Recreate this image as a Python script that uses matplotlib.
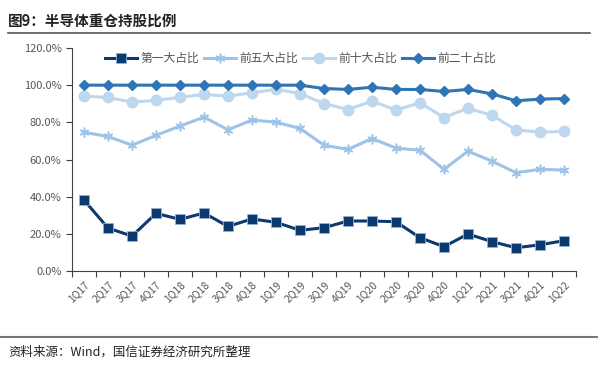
import matplotlib
matplotlib.use("Agg")
import matplotlib.pyplot as plt
from matplotlib.lines import Line2D
from matplotlib.ticker import FuncFormatter, FixedLocator

plt.rcParams['font.family'] = ['Noto Sans CJK SC', 'DejaVu Sans']

# --------------------
# Data
# --------------------
quarters = ["1Q17", "2Q17", "3Q17", "4Q17", "1Q18", "2Q18", "3Q18", "4Q18",
            "1Q19", "2Q19", "3Q19", "4Q19", "1Q20", "2Q20", "3Q20", "4Q20",
            "1Q21", "2Q21", "3Q21", "4Q21", "1Q22"]
top1 = [38.2, 23.1, 18.8, 31.0, 27.8, 31.2, 24.0, 28.0, 26.2, 21.9, 23.3,
        26.9, 26.9, 26.5, 17.9, 13.1, 19.9, 15.8, 12.5, 14.1, 16.3]
top5 = [74.6, 72.4, 67.7, 73.0, 78.0, 82.8, 76.0, 81.2, 80.1, 76.7, 67.7,
        65.4, 71.3, 66.1, 65.0, 54.7, 64.5, 59.1, 52.9, 54.7, 54.3]
top10 = [94.1, 93.4, 90.9, 91.8, 93.5, 95.0, 94.1, 95.9, 97.8, 95.5, 90.1,
         86.9, 91.4, 86.6, 90.5, 82.6, 87.6, 83.7, 76.0, 74.7, 75.1]
top20 = [100.0, 100.0, 100.0, 100.0, 100.0, 100.0, 100.0, 100.0, 100.0, 100.0, 98.2,
         97.7, 98.9, 97.7, 97.7, 96.6, 97.7, 95.3, 91.6, 92.5, 92.8]
labels = ["第一大占比", "前五大占比", "前十大占比", "前二十占比"]

# --------------------
# Figure
# --------------------
fig = plt.figure(figsize=(5.98, 3.67), dpi=100)
W, H = 598, 367
ax = fig.add_axes([72 / W, (H - 271) / H, 504 / W, 223 / H])

x = list(range(len(quarters)))
ax.plot(x, top1, color="#0d3a6e", lw=2.2, marker="s", ms=7,
        mec="#8fb3dc", mew=0.6, label=labels[0], zorder=5)
ax.plot(x, top5, color="#9dc3e6", lw=2.2, marker=(6, 2, 0), ms=7, mew=1.1,
        label=labels[1], zorder=3)
ax.plot(x, top10, color="#bdd7ee", lw=2.2, marker="o", ms=7.5,
        label=labels[2], zorder=2)
ax.plot(x, top20, color="#2e75b6", lw=2.2, marker="D", ms=5.5,
        label=labels[3], zorder=4)

ax.set_ylim(0, 120)
ax.set_yticks(range(0, 121, 20))
ax.yaxis.set_major_formatter(FuncFormatter(lambda v, p: f"{v:.1f}%"))
ax.set_xlim(-0.5, len(quarters) - 0.5)
ax.xaxis.set_major_locator(FixedLocator([i - 0.5 for i in range(len(quarters) + 1)]))
ax.xaxis.set_minor_locator(FixedLocator(x))
ax.set_xticklabels([""] * (len(quarters) + 1))
ax.set_xticklabels(quarters, minor=True, rotation=45, ha="right",
                   rotation_mode="anchor")
ax.tick_params(axis="x", which="minor", length=0, pad=6, labelsize=7.5,
               labelcolor="#555555")
ax.tick_params(axis="x", which="major", length=4, color="#404040")
ax.tick_params(axis="y", length=4, labelsize=8, labelcolor="#555555",
               color="#404040")
for s in ["top", "right"]:
    ax.spines[s].set_visible(False)
for s in ["left", "bottom"]:
    ax.spines[s].set_color("#404040")

ax.legend(loc="upper center", bbox_to_anchor=(0.454, 1.03), ncol=4, frameon=False,
          fontsize=8.5, handlelength=2.7, columnspacing=0.4, handletextpad=0.3,
          labelcolor="#555555")

# --------------------
# Title, rules, source
# --------------------
fig.text(8 / W, 1 - 21 / H, "图9：半导体重仓持股比例", fontsize=10.5,
         fontweight="bold", va="center", ha="left", color="#222222")
fig.add_artist(Line2D([8 / W, 590 / W], [1 - 33 / H, 1 - 33 / H],
                      color="#555555", lw=1.2))
fig.add_artist(Line2D([0 / W, 598 / W], [1 - 337 / H, 1 - 337 / H],
                      color="#777777", lw=1.5))
fig.text(8 / W, 1 - 352 / H, "资料来源：Wind，国信证券经济研究所整理",
         fontsize=9, va="center", ha="left", color="#222222")

fig.savefig("out.png", dpi=100)
